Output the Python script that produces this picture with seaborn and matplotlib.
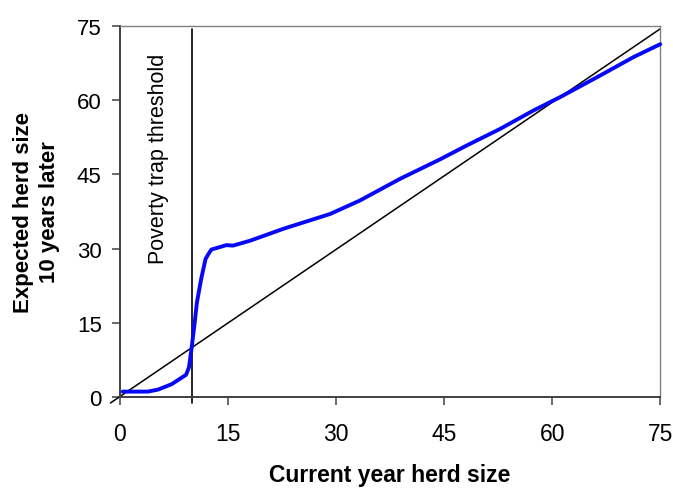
import pandas as pd
import matplotlib.pyplot as plt
import seaborn as sns

# Expected herd size curve
herd_now = [0.4, 3.9, 5.3, 7.2, 9.2, 9.6, 9.95, 10.4, 10.7, 11.3, 11.9, 12.3,
            12.7, 14.8, 15.7, 18.1, 22.7, 29.2, 33.3, 38.9, 44.4, 48.1, 52.8,
            57.4, 61.1, 66.7, 71.3, 75.0]
herd_later = [1.1, 1.1, 1.5, 2.6, 4.5, 6.0, 9.7, 15.1, 19.1, 23.9, 27.9, 28.9,
              29.8, 30.7, 30.6, 31.6, 34.0, 37.0, 39.7, 44.1, 48.0, 50.8, 54.2,
              57.9, 60.6, 65.0, 68.7, 71.3]

# 45-degree reference line and threshold
diag_x = [-1.3, 75]
diag_y = [-1.2, 74.4]
threshold = 10
ticks = [0, 15, 30, 45, 60, 75]

sns.set_style("white")
plt.rcParams["font.family"] = ["Liberation Sans", "DejaVu Sans"]

fig = plt.figure(figsize=(6.73, 4.89), dpi=100)
ax = fig.add_axes([0.178, 0.186, 0.803, 0.759])

df = pd.DataFrame({"x": herd_now, "y": herd_later})
sns.lineplot(data=df, x="x", y="y", ax=ax, color="#0808F8", linewidth=2.8,
             sort=False, clip_on=False, zorder=3)
sns.lineplot(x=diag_x, y=diag_y, ax=ax, color="black", linewidth=1.1,
             clip_on=False, zorder=2)
ax.plot([threshold, threshold], [-1.3, 74.3], color="black", linewidth=1.2,
        clip_on=False, zorder=2)

ax.text(5.4, 69.5, "Poverty trap threshold", rotation=90, ha="center",
        va="top", fontsize=15.5, color="black")

ax.set_xlim(0, 75)
ax.set_ylim(0, 75)
ax.set_xticks(ticks)
ax.set_yticks(ticks)
ax.tick_params(axis="x", direction="out", length=6, width=1.1, color="#404040",
               labelsize=16.5, labelcolor="black", pad=12, bottom=True)
ax.tick_params(axis="y", direction="out", length=6, width=1.1, color="#404040",
               labelsize=16, labelcolor="black", pad=7, left=True)

for side in ["left", "bottom"]:
    ax.spines[side].set_color("#404040")
    ax.spines[side].set_linewidth(1.4)
for side in ["top", "right"]:
    ax.spines[side].set_color("#808080")
    ax.spines[side].set_linewidth(1.0)

ax.set_xlabel("Current year herd size", fontsize=16.5, fontweight="bold",
              labelpad=13, color="black")
ax.set_ylabel("Expected herd size\n10 years later", fontsize=16,
              fontweight="bold", labelpad=12, linespacing=1.35, color="black")

plt.savefig("out.png", dpi=100)
plt.close()
